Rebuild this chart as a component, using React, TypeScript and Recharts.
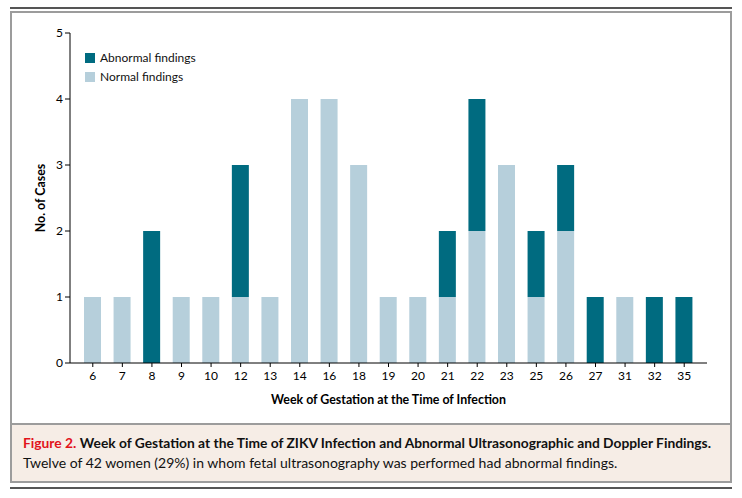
import React from "react";
import { BarChart, Bar, XAxis, YAxis, Label } from "recharts";

const weeks = ["6", "7", "8", "9", "10", "12", "13", "14", "16", "18", "19", "20", "21", "22", "23", "25", "26", "27", "31", "32", "35"];
const normalCases = [1, 1, 0, 1, 1, 1, 1, 4, 4, 3, 1, 1, 1, 2, 3, 1, 2, 0, 1, 0, 0];
const abnormalCases = [0, 0, 2, 0, 0, 2, 0, 0, 0, 0, 0, 0, 1, 2, 0, 1, 1, 1, 0, 1, 1];
const yTicks = [0, 1, 2, 3, 4, 5];

const DARK = "#006b80";
const LIGHT = "#b6cfdb";
const FONT = "Lato, 'Open Sans', sans-serif";

const data = weeks.map((w, i) => ({ week: w, normal: normalCases[i], abnormal: abnormalCases[i] }));

function LegendBox() {
  const items = [
    { label: "Abnormal findings", color: DARK },
    { label: "Normal findings", color: LIGHT },
  ];
  return (
    <div style={{ position: "absolute", left: 85, top: 48, fontFamily: FONT, fontSize: 12, color: "#111" }}>
      {items.map((it) => (
        <div key={it.label} style={{ display: "flex", alignItems: "center", height: 19 }}>
          <span style={{ width: 10, height: 10, background: it.color, display: "inline-block", marginRight: 5 }} />
          {it.label}
        </div>
      ))}
    </div>
  );
}

export default function App() {
  return (
    <div style={{ position: "absolute", left: 0, top: 0, width: 742, height: 498, background: "#fff", fontFamily: FONT }}>
      <div style={{ position: "absolute", left: 10, top: 7, width: 722, height: 2, background: "#555" }} />
      <div style={{ position: "absolute", left: 10, top: 11, width: 722, height: 472, border: "2px solid #9c9c9c", boxSizing: "border-box" }} />
      <div style={{ position: "absolute", left: 0, top: 0 }}>
        <BarChart width={742} height={423} data={data} margin={{ top: 33, right: 35, bottom: 0, left: 0 }} barSize={17}>
          <XAxis
            dataKey="week"
            stroke="#000"
            tickLine={{ stroke: "#000" }}
            tickSize={4}
            tickMargin={4}
            height={60}
            padding={{ left: 8, right: 8 }}
            tick={{ fill: "#000", fontSize: 12, fontFamily: FONT }}
            interval={0}
          >
            <Label value="Week of Gestation at the Time of Infection" position="insideBottom" offset={19} style={{ fontSize: 12.4, fontWeight: 700, fill: "#000", fontFamily: FONT }} />
          </XAxis>
          <YAxis
            width={70}
            domain={[0, 5]}
            ticks={yTicks}
            stroke="#000"
            tickSize={5}
            tickMargin={2}
            tick={{ fill: "#000", fontSize: 12, fontFamily: FONT }}
          >
            <Label
              content={() => (
                <text x={42} y={198} transform="rotate(-90 42 198)" textAnchor="middle" dominantBaseline="middle" style={{ fontSize: 12.4, fontWeight: 700, fill: "#000", fontFamily: FONT }}>
                  No. of Cases
                </text>
              )}
            />
          </YAxis>
          <Bar dataKey="normal" stackId="a" fill={LIGHT} isAnimationActive={false} />
          <Bar dataKey="abnormal" stackId="a" fill={DARK} isAnimationActive={false} />
        </BarChart>
      </div>
      <LegendBox />
      <div
        style={{
          position: "absolute",
          left: 12,
          top: 423,
          width: 718,
          height: 58,
          background: "#f6ede6",
          borderTop: "2px solid #9c9c9c",
          boxSizing: "border-box",
          padding: "8px 0 0 11px",
          lineHeight: "20px",
          color: "#111",
        }}
      >
        <div style={{ fontSize: 13.8 }}>
          <span style={{ color: "#e2131b", fontWeight: 700 }}>Figure 2.</span>{" "}
          <span style={{ fontWeight: 700 }}>Week of Gestation at the Time of ZIKV Infection and Abnormal Ultrasonographic and Doppler Findings.</span>
        </div>
        <div style={{ fontSize: 14 }}>Twelve of 42 women (29%) in whom fetal ultrasonography was performed had abnormal findings.</div>
      </div>
      <div style={{ position: "absolute", left: 10, top: 487, width: 722, height: 2, background: "#555" }} />
    </div>
  );
}
